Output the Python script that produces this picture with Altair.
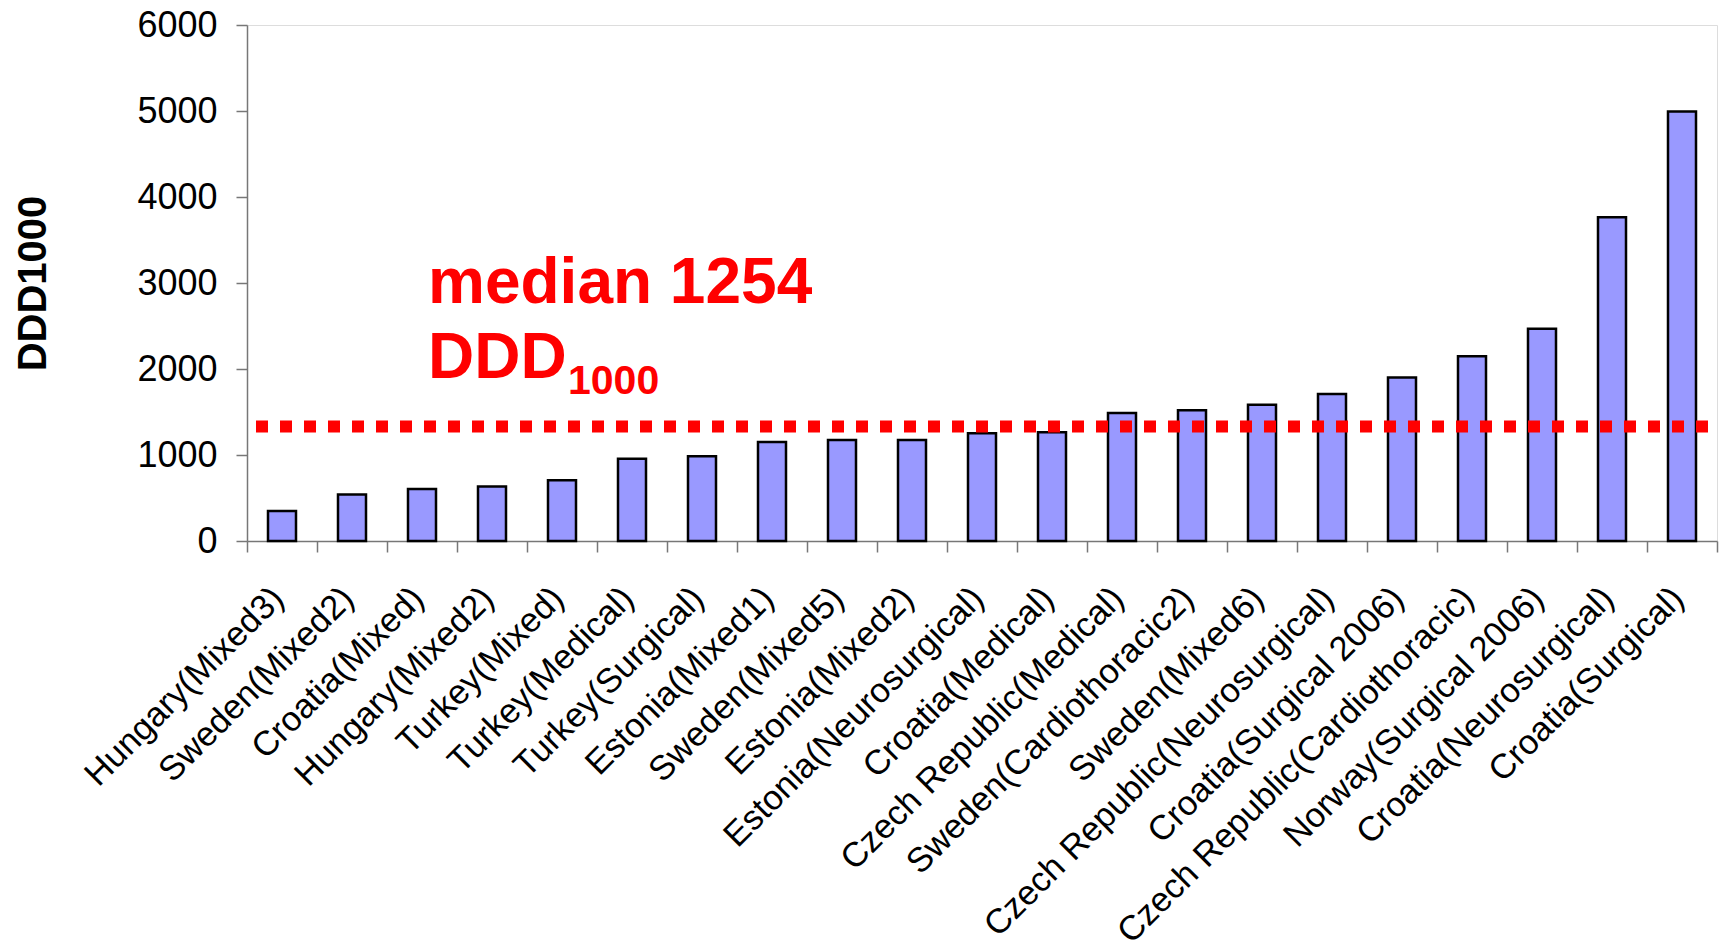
import altair as alt
import pandas as pd

categories = [
    "Hungary(Mixed3)", "Sweden(Mixed2)", "Croatia(Mixed)", "Hungary(Mixed2)",
    "Turkey(Mixed)", "Turkey(Medical)", "Turkey(Surgical)", "Estonia(Mixed1)",
    "Sweden(Mixed5)", "Estonia(Mixed2)", "Estonia(Neurosurgical)", "Croatia(Medical)",
    "Czech Republic(Medical)", "Sweden(Cardiothoracic2)", "Sweden(Mixed6)",
    "Czech Republic(Neurosurgical)", "Croatia(Surgical 2006)",
    "Czech Republic(Cardiothoracic)", "Norway(Surgical 2006)",
    "Croatia(Neurosurgical)", "Croatia(Surgical)",
]
values = [350, 540, 605, 635, 705, 955, 985, 1150, 1175, 1175, 1254, 1265,
          1488, 1520, 1585, 1708, 1902, 2148, 2468, 3765, 4995]

y_ticks = [0, 1000, 2000, 3000, 4000, 5000, 6000]
median_line = [1330]

ann_anchor = "Croatia(Mixed)"
ann_big_text = ["median 1254", "DDD"]
ann_big_y = [2769, 1890]
ann_sub_text = ["1000"]
ann_sub_y = [1704]

FONT = "Liberation Sans"

df = pd.DataFrame({"unit": categories, "ddd": values})
x_scale = alt.Scale(domain=categories, paddingInner=0, paddingOuter=0)
y_scale = alt.Scale(domain=[0, 6000], nice=False)

bars = alt.Chart(df).mark_bar(
    fill="#9999FF", stroke="black", strokeWidth=2.5,
    width=alt.RelativeBandSize(0.4)
).encode(
    x=alt.X("unit:N", scale=x_scale, sort=None,
            axis=alt.Axis(title=None, labelAngle=-45, labelFontSize=34.5, labelFont=FONT,
                          labelColor="black", tickBand="extent", tickSize=11,
                          tickColor="#777", domainColor="#777", domainWidth=1.5,
                          tickWidth=1.5, labelPadding=29, labelOffset=-16,
                          labelLimit=0, labelOverlap=False)),
    y=alt.Y("ddd:Q", scale=y_scale,
            axis=alt.Axis(title="DDD1000", titleFontSize=40, titleFont=FONT,
                          titleFontWeight="bold", titleColor="black",
                          titleX=-214, titleY=258, titleAngle=270,
                          titleAlign="center", titleBaseline="middle",
                          values=y_ticks, format="d", labelFontSize=36, labelFont=FONT,
                          labelColor="black", tickSize=11, tickColor="#777",
                          domainColor="#777", domainWidth=1.5, tickWidth=1.5,
                          labelPadding=19, grid=False)),
)

rule = alt.Chart(pd.DataFrame({"ddd": median_line})).mark_rule(
    color="#FF0000", strokeWidth=12, strokeDash=[12, 12], strokeDashOffset=15
).encode(y=alt.Y("ddd:Q", scale=y_scale))

big = alt.Chart(pd.DataFrame({"unit": [ann_anchor] * len(ann_big_text),
                              "ddd": ann_big_y, "label": ann_big_text})).mark_text(
    align="left", baseline="alphabetic", font=FONT, fontWeight="bold",
    fontSize=64, color="#FF0000", dx=6
).encode(x=alt.X("unit:N", scale=x_scale, sort=None),
         y=alt.Y("ddd:Q", scale=y_scale), text="label:N")

sub = alt.Chart(pd.DataFrame({"unit": [ann_anchor] * len(ann_sub_text),
                              "ddd": ann_sub_y, "label": ann_sub_text})).mark_text(
    align="left", baseline="alphabetic", font=FONT, fontWeight="bold",
    fontSize=41, color="#FF0000", dx=146
).encode(x=alt.X("unit:N", scale=x_scale, sort=None),
         y=alt.Y("ddd:Q", scale=y_scale), text="label:N")

chart = alt.layer(bars, rule, big, sub).properties(
    width=1470, height=516,
    padding={"left": 239, "top": 17, "right": 4, "bottom": 399},
    autosize=alt.AutoSizeParams(type="none"),
).configure_view(stroke=None).configure(background="white")

chart.save("out.html", embed_options={"renderer": "svg", "actions": False})
